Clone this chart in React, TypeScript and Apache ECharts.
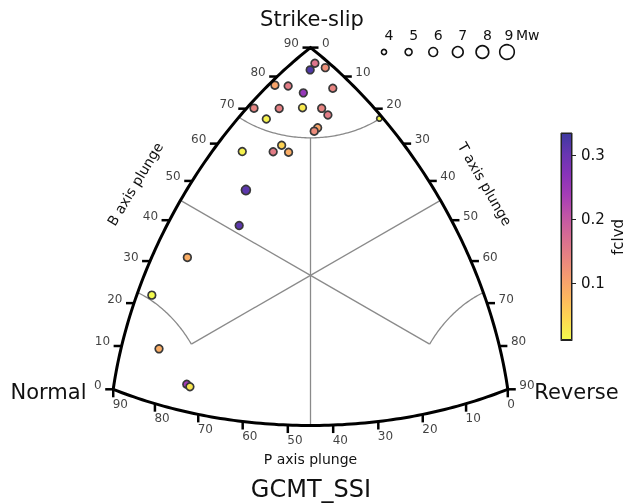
import React, { useEffect, useRef } from "react";
import * as echarts from "echarts";

// ---- data: plunges (deg) of P, T, B axes, fclvd and magnitude per event ----
const pPlunge = [2.2, 4.1, 1.4, 11.9, 10.2, 9.2, 3.8, 18.9, 15.5, 11.9, 9.0, 9.1, 19.2, 12.9, 14.0, 0.7, 28.3, 23.9, 21.5, 21.6, 34.5, 41.4, 54.7, 66.4, 74.7, 72.1, 71.5];
const tPlunge = [3.5, 4.0, 5.8, 1.1, 3.4, 7.0, 10.6, 1.3, 5.7, 9.4, 12.5, 14.6, 5.2, 15.2, 15.2, 22.4, 5.8, 11.5, 12.0, 14.3, 11.9, 15.1, 7.8, 3.4, 8.7, 16.6, 17.4];
const bPlunge = [85.8, 84.2, 84.0, 78.1, 79.2, 78.4, 78.7, 71.0, 73.5, 74.7, 74.5, 72.7, 70.1, 69.9, 69.1, 67.6, 60.9, 63.2, 65.1, 63.7, 53.0, 44.7, 34.2, 23.3, 12.5, 6.4, 6.0];
const fclvd = [0.16, 0.32, 0.125, 0.1, 0.15, 0.255, 0.14, 0.14, 0.145, 0.028, 0.14, 0.15, 0.02, 0.1, 0.13, 0.015, 0.02, 0.15, 0.05, 0.09, 0.31, 0.31, 0.09, 0.012, 0.09, 0.24, 0.03];
const magnitude = [5.4, 5.4, 5.4, 5.4, 5.4, 5.4, 5.4, 5.4, 5.4, 5.4, 5.4, 5.4, 5.4, 5.4, 5.4, 4.2, 5.4, 5.4, 5.4, 5.4, 6.1, 5.4, 5.4, 5.4, 5.4, 5.4, 5.4];

const tickValues = [0, 10, 20, 30, 40, 50, 60, 70, 80, 90];
const sizeLegendMw = [4, 5, 6, 7, 8, 9];
const colorbarTicks = [0.1, 0.2, 0.3];
const FCLVD_MIN = 0.012;
const FCLVD_MAX = 0.334;
const CLASS_LIMIT = 67.5;

const plasma = ["#0d0887", "#41049d", "#6a00a8", "#8f0da4", "#b12a90", "#cc4778", "#e16462", "#f2844b", "#fca636", "#fcce25", "#f0f921"];

// ---- geometry helpers ----
const D = Math.PI / 180;
function kaveZ(zp: number, zt: number, zb: number): number[] {
  const nn = Math.sqrt(zp * zp + zt * zt + zb * zb);
  zp /= nn; zt /= nn; zb /= nn;
  const c = Math.min(1, Math.max(-1, (zt + zb + zp) / Math.sqrt(3)));
  const L = 2 * Math.sin(0.5 * Math.acos(c));
  const n = Math.sqrt(2 * ((zb - zp) ** 2 + (zb - zt) ** 2 + (zt - zp) ** 2));
  if (n < 1e-12) return [0, 0];
  return [Math.sqrt(6) * (L / n) * (zt - zp), Math.sqrt(2) * (L / n) * (2 * zb - zp - zt)];
}
function kave(p: number, t: number, b: number): number[] {
  return kaveZ(Math.sin(p * D), Math.sin(t * D), Math.sin(b * D));
}

const W = 626, H = 503, CX = 310.5, CY = 275.4, S = 175.2;
const XMIN = -CX / S, XMAX = (W - CX) / S, YMAX = CY / S, YMIN = -(H - CY) / S;
const u = (pix: number) => pix / S;
const FONT = "DejaVu Sans";

function blend(hex: string, a: number): string {
  const r = parseInt(hex.slice(1, 3), 16), g = parseInt(hex.slice(3, 5), 16), b = parseInt(hex.slice(5, 7), 16);
  const f = (c: number) => Math.round(a * c + (1 - a) * 255).toString(16).padStart(2, "0");
  return "#" + f(r) + f(g) + f(b);
}
const plasmaSoft = plasma.map((c) => blend(c, 0.8));
const diam = (mw: number) => 6.7 + (mw - 4) * 1.9;

export default function App() {
  const ref = useRef<HTMLDivElement>(null);
  useEffect(() => {
    const chart = echarts.init(ref.current!, null, { renderer: "svg" });

    // outline of the diagram
    const outline: number[][] = [];
    for (let b = 0; b <= 90; b++) outline.push(kave(90 - b, 0, b));
    for (let t = 0; t <= 90; t++) outline.push(kave(0, t, 90 - t));
    for (let p = 0; p <= 90; p++) outline.push(kave(p, 90 - p, 0));

    const sL = Math.sin(CLASS_LIMIT * D), cL = Math.cos(CLASS_LIMIT * D);
    const topArc: number[][] = [], leftArc: number[][] = [], rightArc: number[][] = [];
    for (let f = 0; f <= 90; f++) topArc.push(kaveZ(cL * Math.cos(f * D), cL * Math.sin(f * D), sL));
    for (let f = 0; f <= 45; f++) leftArc.push(kaveZ(sL, cL * Math.sin(f * D), cL * Math.cos(f * D)));
    for (let f = 0; f <= 45; f++) rightArc.push(kaveZ(cL * Math.sin(f * D), sL, cL * Math.cos(f * D)));
    const h = cL / Math.SQRT2;
    const center = [0, 0];
    const segments = [
      [center, kaveZ(h, h, sL)],
      [center, kave(45, 45, 0)],
      [center, kave(45, 0, 45)],
      [center, kave(0, 45, 45)],
      [center, kaveZ(sL, h, h)],
      [center, kaveZ(h, sL, h)],
    ];

    const tickLen = u(8);
    const tickLines: any[] = [];
    const leftLabels: any[] = [], rightLabels: any[] = [], bottomLabels: any[] = [];
    tickValues.forEach((v) => {
      const e1 = kave(90 - v, 0, v);
      const a1 = [e1[0] - tickLen, e1[1]];
      tickLines.push([e1, a1]);
      leftLabels.push({ value: a1, txt: String(v) });
      const e2 = kave(0, v, 90 - v);
      const a2 = [e2[0] + tickLen, e2[1]];
      tickLines.push([e2, a2]);
      rightLabels.push({ value: a2, txt: String(v) });
      const e3 = kave(v, 90 - v, 0);
      const a3 = [e3[0], e3[1] - tickLen];
      tickLines.push([e3, a3]);
      bottomLabels.push({ value: a3, txt: String(v) });
    });

    const lineSeries = (data: number[][], color: string, width: number, z: number) => ({
      type: "line", xAxisIndex: 0, yAxisIndex: 0, data, showSymbol: false, symbol: "none",
      lineStyle: { color, width, join: "miter" }, silent: true, z, clip: false, animation: false,
    });
    const labelSeries = (data: any[], label: any) => ({
      type: "scatter", xAxisIndex: 0, yAxisIndex: 0, data, symbolSize: 1,
      itemStyle: { color: "transparent" }, silent: true, z: 5,
      label: { show: true, formatter: (p: any) => p.data.txt, fontSize: 12, fontFamily: FONT, color: "#111", ...label },
    });

    const series: any[] = [];
    series.push(lineSeries(topArc, "#8a8a8a", 1.3, 1));
    series.push(lineSeries(leftArc, "#8a8a8a", 1.3, 1));
    series.push(lineSeries(rightArc, "#8a8a8a", 1.3, 1));
    segments.forEach((s) => series.push(lineSeries(s, "#8a8a8a", 1.3, 1)));
    const scatterIndex = series.length;
    series.push({
      type: "scatter", xAxisIndex: 0, yAxisIndex: 0, z: 3,
      data: pPlunge.map((p, i) => {
        const xy = kave(p, tPlunge[i], bPlunge[i]);
        return [xy[0], xy[1], fclvd[i], magnitude[i]];
      }),
      symbolSize: (v: number[]) => diam(v[3]) - 1.7,
      itemStyle: { borderColor: "#383838", borderWidth: 1.7, opacity: 1 },
      silent: true,
    });
    series.push(lineSeries(outline, "#000", 3, 4));
    tickLines.forEach((s) => series.push(lineSeries(s, "#000", 2.5, 4)));
    series.push(labelSeries(leftLabels, { position: [-3, -4], align: "right", verticalAlign: "middle" }));
    series.push(labelSeries(rightLabels, { position: [4, -4], align: "left", verticalAlign: "middle" }));
    series.push(labelSeries(bottomLabels, { position: [0, 1], align: "left", verticalAlign: "top" }));

    // colorbar
    const stops = plasmaSoft.map((c, i) => ({ offset: i / (plasmaSoft.length - 1), color: c }));
    series.push({
      type: "bar", xAxisIndex: 1, yAxisIndex: 1, data: [FCLVD_MAX], barWidth: "100%", silent: true,
      itemStyle: {
        color: new echarts.graphic.LinearGradient(0, 133, 0, 340, stops, true),
        borderColor: "#222", borderWidth: 1,
      },
    });

    const graphic: any[] = [];
    const txt = (text: string, x: number, y: number, fontSize: number, rotation = 0, align = "center") => ({
      type: "text", x, y, rotation, silent: true,
      style: { text, fontSize, fontFamily: FONT, fill: "#111", align, verticalAlign: "middle" },
    });
    graphic.push(txt("Strike-slip", 312, 19, 21));
    graphic.push(txt("Normal", 48.5, 392, 21));
    graphic.push(txt("Reverse", 576.5, 392, 21));
    graphic.push(txt("GCMT_SSI", 311, 489, 24));
    graphic.push(txt("P axis plunge", 310.5, 459, 14));
    graphic.push(txt("B axis plunge", 135, 184, 14, (59 * Math.PI) / 180));
    graphic.push(txt("T axis plunge", 485, 184, 14, (-60 * Math.PI) / 180));
    graphic.push(txt("fclvd", 618, 237, 15, Math.PI / 2));
    sizeLegendMw.forEach((mw, i) => {
      const cx = 384 + i * 24.6;
      graphic.push({
        type: "circle", shape: { cx, cy: 52, r: (diam(mw) - 1.6) / 2 }, silent: true,
        style: { fill: "none", stroke: "#111", lineWidth: 1.6 },
      });
      graphic.push(txt(String(mw), cx + (i === 5 ? 2 : 5), 35, 14));
    });
    graphic.push(txt("Mw", 516, 35, 14, 0, "left"));

    chart.setOption({
      animation: false,
      grid: [
        { left: 0, top: 0, width: W, height: H, containLabel: false },
        { left: 561, top: 133, width: 11, height: 207, containLabel: false, show: true, borderColor: "#222", borderWidth: 1 },
      ],
      xAxis: [
        { gridIndex: 0, type: "value", min: XMIN, max: XMAX, show: false },
        { gridIndex: 1, type: "category", data: ["fclvd"], axisLine: { show: true, lineStyle: { color: "#222", width: 1 } }, axisTick: { show: false }, axisLabel: { show: false } },
      ],
      yAxis: [
        { gridIndex: 0, type: "value", min: YMIN, max: YMAX, show: false },
        {
          gridIndex: 1, type: "value", min: FCLVD_MIN, max: FCLVD_MAX, startValue: FCLVD_MIN, position: "right",
          axisLine: { show: false }, splitLine: { show: false },
          axisTick: { show: true, customValues: colorbarTicks, length: 4, lineStyle: { color: "#222", width: 1 } },
          axisLabel: { customValues: colorbarTicks, formatter: (v: number) => v.toFixed(1), fontSize: 15, fontFamily: FONT, color: "#111", margin: 9 },
        },
      ],
      visualMap: {
        type: "continuous", show: false, seriesIndex: scatterIndex, dimension: 2,
        min: FCLVD_MIN, max: FCLVD_MAX, inRange: { color: plasmaSoft.slice().reverse() },
      },
      series,
      graphic,
    });
    return () => chart.dispose();
  }, []);
  return <div ref={ref} style={{ position: "fixed", left: 0, top: 0, width: W, height: H }} />;
}
